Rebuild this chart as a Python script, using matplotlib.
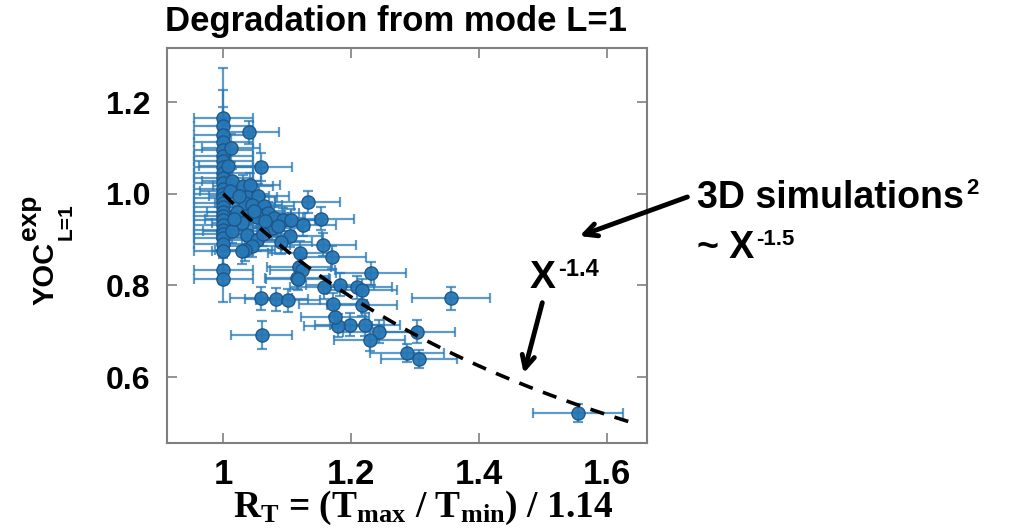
import matplotlib
matplotlib.use("Agg")
import matplotlib.pyplot as plt
import numpy as np

plt.rcParams['font.family'] = ['Liberation Sans', 'DejaVu Sans']
plt.rcParams['font.weight'] = 'bold'
plt.rcParams['mathtext.fontset'] = 'custom'
plt.rcParams['mathtext.rm'] = 'Liberation Serif:bold'
plt.rcParams['mathtext.it'] = 'Liberation Serif:bold'
plt.rcParams['mathtext.bf'] = 'Liberation Serif:bold'

# measured points: R_T, YOC, and their error half-widths
r_t = [1.000, 1.000, 1.000, 1.000, 1.000, 1.000, 1.000, 1.000, 1.000,
       1.000, 1.000, 1.000, 1.000, 1.000, 1.000, 1.000, 1.000, 1.000,
       1.000, 1.000, 1.000, 1.000, 1.000, 1.000, 1.000, 1.000, 1.000,
       1.013, 1.031, 1.042, 1.037, 1.055, 1.034, 1.045, 1.063, 1.021,
       1.058, 1.070, 1.053, 1.079, 1.029, 1.076, 1.014, 1.037, 1.053,
       1.045, 1.034, 1.029, 1.041, 1.059, 1.093, 1.106, 1.125, 1.105,
       1.090, 1.132, 1.153, 1.156, 1.120, 1.170, 1.119, 1.124, 1.115,
       1.231, 1.356, 1.059, 1.083, 1.101, 1.060, 1.555, 1.303, 1.306,
       1.287, 1.243, 1.229, 1.222, 1.198, 1.180, 1.175, 1.172, 1.217,
       1.157, 1.183, 1.210, 1.217, 1.117,
       1.010, 1.025, 1.048, 1.066, 1.085, 1.017, 1.062, 1.008, 1.012]
yoc = [1.165, 1.147, 1.129, 1.112, 1.096, 1.083, 1.071, 1.058, 1.045,
       1.034, 1.023, 1.011, 1.000, 0.990, 0.980, 0.970, 0.961, 0.952,
       0.943, 0.932, 0.921, 0.912, 0.903, 0.890, 0.875, 0.834, 0.814,
       1.028, 1.016, 1.020, 0.993, 0.996, 0.980, 0.976, 0.974, 0.961,
       0.954, 0.958, 0.950, 0.947, 0.937, 0.925, 0.918, 0.910, 0.900,
       0.886, 0.878, 0.876, 1.134, 1.058, 0.943, 0.942, 0.932, 0.908,
       0.894, 0.982, 0.945, 0.889, 0.871, 0.861, 0.841, 0.834, 0.816,
       0.826, 0.772, 0.772, 0.770, 0.767, 0.692, 0.521, 0.699, 0.640,
       0.653, 0.699, 0.681, 0.714, 0.714, 0.712, 0.732, 0.759, 0.758,
       0.796, 0.801, 0.796, 0.789, 0.814,
       1.005, 0.995, 0.962, 0.940, 0.930, 0.945, 0.912, 1.060, 1.100]
r_t_err = [0.046, 0.046, 0.046, 0.046, 0.046, 0.046, 0.046, 0.046, 0.046,
           0.046, 0.046, 0.046, 0.046, 0.046, 0.046, 0.046, 0.046, 0.046,
           0.046, 0.046, 0.046, 0.046, 0.046, 0.046, 0.046, 0.046, 0.046,
           0.046, 0.047, 0.047, 0.047, 0.048, 0.047, 0.047, 0.048, 0.046,
           0.048, 0.048, 0.048, 0.049, 0.047, 0.049, 0.046, 0.047, 0.048,
           0.047, 0.047, 0.047, 0.047, 0.048, 0.050, 0.050, 0.051, 0.050,
           0.049, 0.051, 0.052, 0.052, 0.050, 0.053, 0.050, 0.051, 0.050,
           0.055, 0.061, 0.048, 0.049, 0.050, 0.048, 0.070, 0.059, 0.059,
           0.058, 0.056, 0.055, 0.055, 0.054, 0.053, 0.053, 0.053, 0.055,
           0.052, 0.053, 0.054, 0.055, 0.050,
           0.046, 0.047, 0.048, 0.048, 0.049, 0.046, 0.048, 0.046, 0.046]
yoc_err = [0.110, 0.080, 0.060, 0.030, 0.030, 0.025, 0.025, 0.025, 0.025,
           0.025, 0.025, 0.025, 0.025, 0.025, 0.025, 0.025, 0.025, 0.025,
           0.025, 0.025, 0.025, 0.025, 0.030, 0.030, 0.030, 0.030, 0.050,
           0.025, 0.025, 0.025, 0.025, 0.025, 0.025, 0.025, 0.025, 0.025,
           0.025, 0.025, 0.025, 0.025, 0.025, 0.025, 0.025, 0.025, 0.025,
           0.025, 0.025, 0.030, 0.025, 0.030, 0.025, 0.025, 0.025, 0.025,
           0.025, 0.025, 0.025, 0.025, 0.025, 0.025, 0.025, 0.025, 0.025,
           0.025, 0.025, 0.025, 0.025, 0.025, 0.030, 0.020, 0.025, 0.020,
           0.020, 0.025, 0.025, 0.025, 0.025, 0.025, 0.025, 0.025, 0.025,
           0.025, 0.025, 0.025, 0.025, 0.025,
           0.025, 0.025, 0.025, 0.025, 0.025, 0.025, 0.025, 0.030, 0.030]

# power law guide X^-1.4
fit_exp = -1.4
fit_range = (1.0, 1.635)

x_ticks = [1.0, 1.2, 1.4, 1.6]
x_ticklabels = ['1', '1.2', '1.4', '1.6']
y_ticks = [0.6, 0.8, 1.0, 1.2]
y_ticklabels = ['0.6', '0.8', '1.0', '1.2']

W, H = 1015, 530
fig = plt.figure(figsize=(W / 100, H / 100), dpi=100)
ax = fig.add_axes([167 / W, 1 - 443 / H, 480 / W, 395 / H])

blue = '#2a7ab8'
ax.errorbar(r_t, yoc, xerr=r_t_err, yerr=yoc_err, fmt='none', ecolor=blue,
            elinewidth=1.6, capsize=3.5, capthick=1.6, alpha=0.75, zorder=2)
ax.plot(r_t, yoc, 'o', color='#2677b5', markeredgecolor='#1d5588',
        markeredgewidth=1.0, markersize=9.5, alpha=0.95, zorder=3)

xf = np.linspace(fit_range[0], fit_range[1], 100)
ax.plot(xf, xf ** fit_exp, '--', color='black', lw=2.6, dashes=(4, 3), zorder=4)

ax.set_xlim(0.912, 1.663)
ax.set_ylim(0.456, 1.318)
ax.set_xticks(x_ticks)
ax.set_xticklabels(x_ticklabels)
ax.set_yticks(y_ticks)
ax.set_yticklabels(y_ticklabels)
ax.tick_params(axis='x', direction='in', length=7, width=1.2, color='#808080',
               top=True, labelsize=25, pad=11)
ax.tick_params(axis='y', direction='in', length=7, width=1.2, color='#808080',
               right=True, labelsize=23, pad=12)
for s in ax.spines.values():
    s.set_color('#7f7f7f')
    s.set_linewidth(1.5)

fig.text(396 / W, 1 - 22 / H, 'Degradation from mode L=1', fontsize=25,
         ha='center', va='center', fontweight='bold')

# y label built from pieces: YOC, superscript exp, subscript L=1 (rotated)
rot = dict(rotation=90, rotation_mode='anchor', ha='left', va='baseline')
fig.text(54 / W, 1 - 305 / H, 'YOC', fontsize=21, **rot)
fig.text(36 / W, 1 - 240 / H, 'exp', fontsize=19, **rot)
fig.text(72 / W, 1 - 240 / H, 'L=1', fontsize=15, **rot)

fig.text(423 / W, 1 - 517 / H,
         r'R$_{T}$ = (T$_{max}$ / T$_{min}$) / 1.14',
         fontsize=27, ha='center', va='baseline',
         family=['Liberation Serif'], fontweight='bold')


def sup_text(x, y, base, sup, size, sup_size, rise):
    t = fig.text(x / W, 1 - y / H, base, fontsize=size, ha='left', va='baseline')
    fig.canvas.draw()
    bb = t.get_window_extent()
    fig.text((bb.x1 + 2) / W, 1 - (y - rise) / H, sup, fontsize=sup_size,
             ha='left', va='baseline')


# annotations
sup_text(530, 288, 'X', '-1.4', 28, 17, 12)
sup_text(697, 208, '3D simulations', '2', 27, 16, 14)
sup_text(697, 258, '~ X', '-1.5', 27, 16, 13)

arrow = dict(arrowstyle='->,head_length=0.9,head_width=0.45', color='black', lw=3.5)
ax.annotate('', xy=(577, H - 237), xytext=(690, H - 196),
            xycoords='figure pixels', textcoords='figure pixels', arrowprops=arrow)
ax.annotate('', xy=(523, H - 376), xytext=(543, H - 300),
            xycoords='figure pixels', textcoords='figure pixels', arrowprops=arrow)

fig.savefig('out.png', dpi=100)
